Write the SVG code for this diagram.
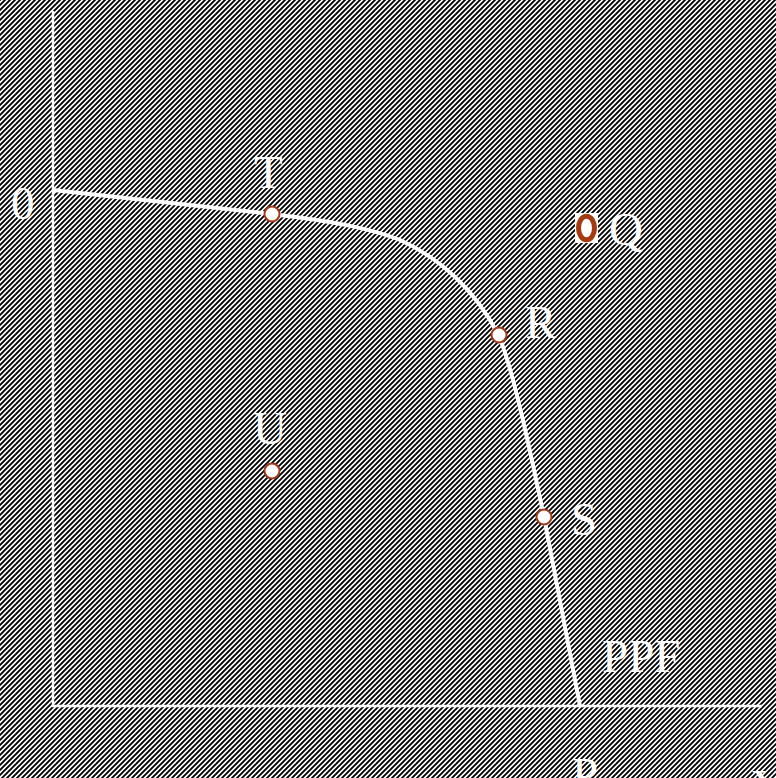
<svg xmlns="http://www.w3.org/2000/svg" width="776" height="778" viewBox="0 0 776 778">
<defs>
<pattern id="hatch" width="5" height="5" patternUnits="userSpaceOnUse">
<rect width="5" height="5" fill="#fff"/>
<path d="M-1,1 L1,-1 M0,5 L5,0 M4,6 L6,4" stroke="#000" stroke-width="1.9"/>
</pattern>
<style>
.lbl{font-family:"Liberation Serif","Times New Roman",serif;font-size:47px;fill:#fff}
.axis{stroke:#fff;stroke-width:2.5;fill:none}
.pt{fill:#fff;stroke:#a0391a;stroke-width:2}
</style>
</defs>
<rect width="776" height="778" fill="url(#hatch)"/>
<g id="axes">
<line class="axis" x1="53" y1="11" x2="53" y2="706"/>
<line class="axis" x1="52" y1="706" x2="762" y2="706"/>
</g>
<g id="connectors">
<path d="M53,190 L272,214 C330,221 370,228 400,240 C440,258 475,290 498,334 C512,365 530,450 544,517 L580,706" fill="none" stroke="#fff" stroke-width="4"/>
</g>
<g id="label-0"><text class="lbl" x="11" y="219">0</text></g>
<g id="node-T"><circle class="pt" cx="272" cy="214" r="7.5"/><text class="lbl" x="254" y="188">T</text></g>
<g id="node-Q">
<rect x="575" y="213" width="23" height="30" fill="#fff"/>
<ellipse cx="586.5" cy="228" rx="8" ry="11.8" fill="#fff" stroke="#a33a10" stroke-width="5"/>
<text class="lbl" x="609" y="245">Q</text>
</g>
<g id="node-R"><circle class="pt" cx="499" cy="335" r="7.5"/><text class="lbl" x="525" y="338">R</text></g>
<g id="node-U"><circle class="pt" cx="272" cy="471" r="7.5"/><text class="lbl" x="253" y="444">U</text></g>
<g id="node-S"><circle class="pt" cx="544" cy="517" r="7.5"/><text class="lbl" x="571" y="535">S</text></g>
<g id="label-PPF"><text class="lbl" x="602" y="672">PPF</text></g>
<g id="label-P"><text class="lbl" x="572" y="790">P</text></g>
<g id="label-Y"><text class="lbl" x="752" y="802">Y</text></g>
</svg>
